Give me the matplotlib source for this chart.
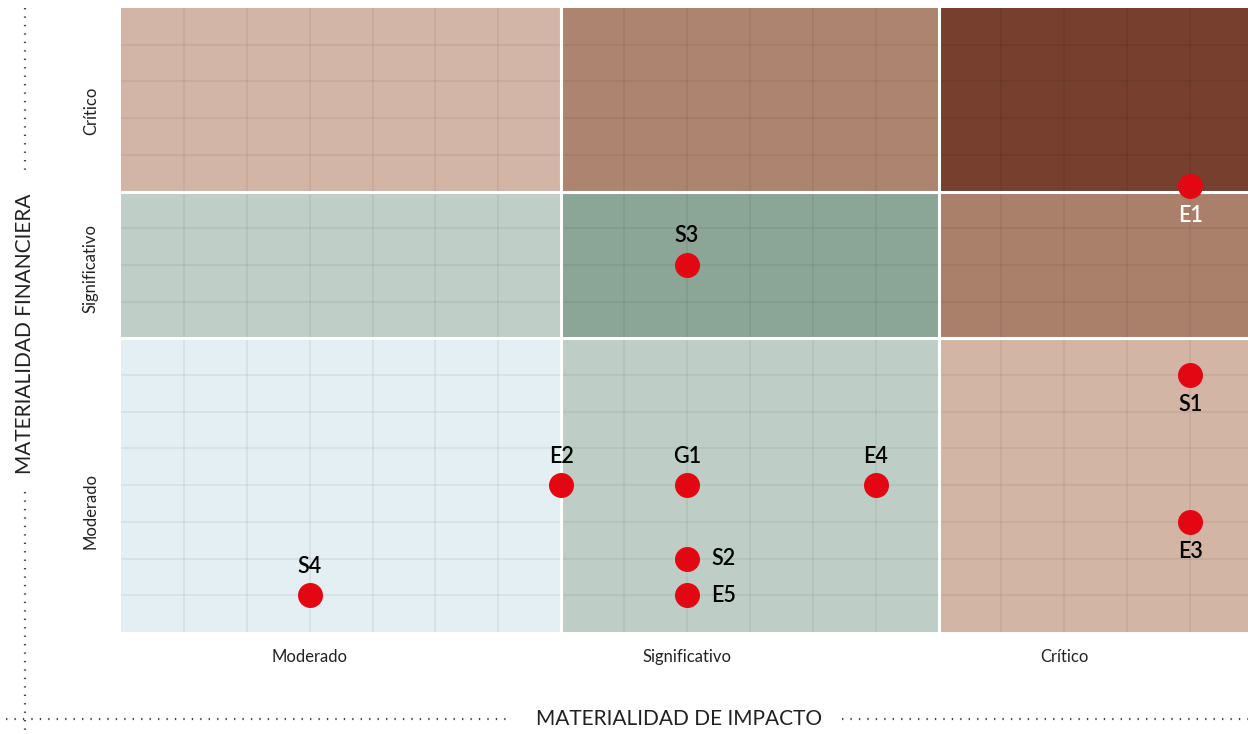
import matplotlib
matplotlib.use("Agg")
import matplotlib.pyplot as plt
from matplotlib.patches import Rectangle
from matplotlib.lines import Line2D

plt.rcParams['font.family'] = ['Lato', 'DejaVu Sans']

# Data
col_edges = [0, 7, 13, 18]
row_edges = [0, 8, 12, 17]
cell_colors = [  # rows bottom -> top, cols left -> right
    ["#e4eff3", "#becec7", "#d3b5a5"],
    ["#bfcec7", "#8ba597", "#ab806b"],
    ["#d3b5a7", "#ac8470", "#763f2e"],
]
x_tick_pos = [3, 9, 15]
x_tick_labels = ["Moderado", "Significativo", "Crítico"]
y_tick_pos = [3.3, 9.9, 14.2]
y_tick_labels = ["Moderado", "Significativo", "Crítico"]

names = ["E1", "S3", "S1", "E2", "G1", "E4", "E3", "S2", "E5", "S4"]
xs = [17, 9, 17, 7, 9, 12, 17, 9, 9, 3]
ys = [12.15, 10, 7, 4, 4, 4, 3, 2, 1, 1]
label_side = ["below", "above", "below", "above", "above", "above", "below", "right", "right", "above"]
label_color = ["white", "black", "black", "black", "black", "black", "black", "black", "black", "black"]

fig = plt.figure(figsize=(12.48, 7.34), dpi=100)
ax = fig.add_axes([121/1248, 1 - 632/734, 1 - 121/1248, (632 - 8)/734])
ax.set_xlim(col_edges[0], 17.92)
ax.set_ylim(row_edges[0], row_edges[-1])

for r in range(3):
    for c in range(3):
        ax.add_patch(Rectangle((col_edges[c], row_edges[r]),
                               col_edges[c+1] - col_edges[c],
                               row_edges[r+1] - row_edges[r],
                               facecolor=cell_colors[r][c], edgecolor='none', zorder=0))

for x in range(col_edges[0] + 1, col_edges[-1]):
    ax.axvline(x, color='black', alpha=0.065, lw=1.1, zorder=1)
for y in range(row_edges[0] + 1, row_edges[-1]):
    ax.axhline(y, color='black', alpha=0.065, lw=1.1, zorder=1)
for x in col_edges[1:-1]:
    ax.axvline(x, color='white', lw=2.2, zorder=2)
for y in row_edges[1:-1]:
    ax.axhline(y, color='white', lw=2.2, zorder=2)

ax.scatter(xs, ys, s=18**2, color="#e30613", zorder=5, linewidths=0, clip_on=False)

offsets = {"above": (0, 21), "below": (0, -21), "right": (26, 0)}
for n, x, y, side, col in zip(names, xs, ys, label_side, label_color):
    dx, dy = offsets[side]
    ax.annotate(n, (x, y), xytext=(dx, dy), textcoords='offset points',
                ha='center', va='center', fontsize=15.5, color=col,
                fontweight='semibold', zorder=6)

ax.set_xticks(x_tick_pos)
ax.set_xticklabels(x_tick_labels, fontsize=12, color="#222222")
ax.set_yticks(y_tick_pos)
ax.set_yticklabels(y_tick_labels, fontsize=12, color="#222222", rotation=90, va='center')
ax.tick_params(axis='x', length=0, pad=12)
ax.tick_params(axis='y', length=0, pad=16)
for s in ax.spines.values():
    s.set_visible(False)

# Axis titles with dotted guide lines (figure coords)
W, H = 1248, 734
def fx(px): return px / W
def fy(py): return 1 - py / H

dot = dict(color='#444444', lw=1.6, linestyle=(0, (0.6, 3.2)), transform=fig.transFigure)
fig.add_artist(Line2D([fx(25), fx(25)], [fy(8), fy(176)], **dot))
fig.add_artist(Line2D([fx(25), fx(25)], [fy(492), fy(734)], **dot))
fig.add_artist(Line2D([fx(6), fx(512)], [fy(719), fy(719)], **dot))
fig.add_artist(Line2D([fx(842), fx(1248)], [fy(719), fy(719)], **dot))

fig.text(fx(25), fy(334), "MATERIALIDAD FINANCIERA", rotation=90, ha='center', va='center',
         fontsize=15, color="#222222")
fig.text(fx(679), fy(719), "MATERIALIDAD DE IMPACTO", ha='center', va='center',
         fontsize=15, color="#222222")

fig.savefig("out.png", dpi=100)
